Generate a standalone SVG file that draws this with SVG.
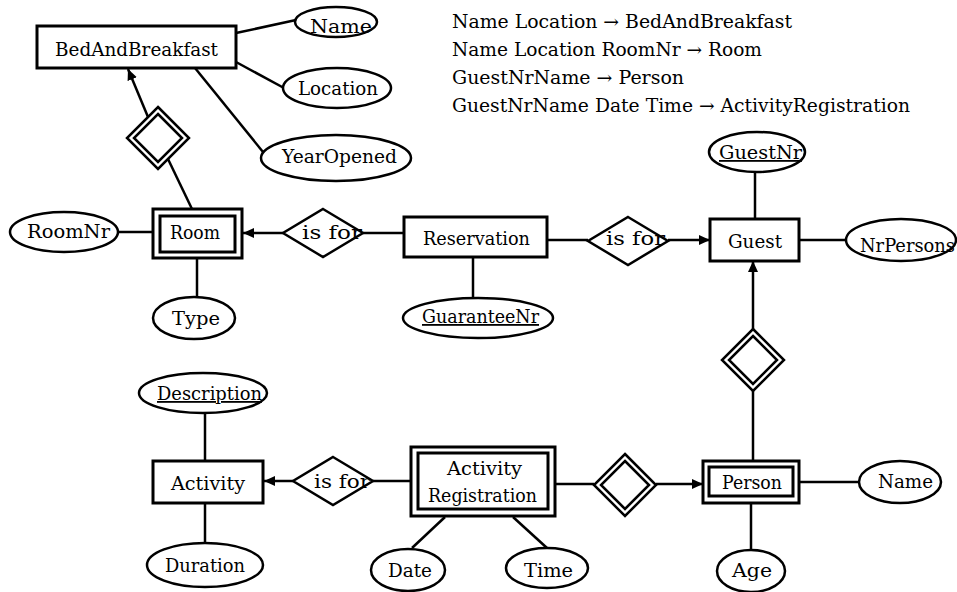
<svg xmlns="http://www.w3.org/2000/svg" width="957" height="592" viewBox="0 0 957 592">
  <style>
    .ent { fill: #fff; stroke: #000; stroke-width: 3; }
    .attr { fill: #fff; stroke: #000; stroke-width: 2.5; }
    .rel { fill: #fff; stroke: #000; stroke-width: 2.5; }
    .ln { fill: none; stroke: #000; stroke-width: 2.5; }
    .arr { fill: none; stroke: #000; stroke-width: 2.5; marker-end: url(#head); }
    text { font-family: "DejaVu Serif", "Liberation Serif", serif; font-size: 18px; fill: #000; }
    .c { text-anchor: middle; }
    .key { text-decoration: underline; }
  </style>
  <defs>
    <marker id="head" markerUnits="userSpaceOnUse" markerWidth="11" markerHeight="10" refX="11" refY="5" orient="auto">
      <path d="M0,0 L11,5 L0,10 z" fill="#000"/>
    </marker>
  </defs>

  <rect width="957" height="592" fill="#fff"/>

  <!-- connectors -->
  <g id="connectors">
    <line class="ln" x1="236" y1="33" x2="296" y2="20"/>
    <line class="ln" x1="236" y1="62" x2="284" y2="88"/>
    <line class="ln" x1="195" y1="68" x2="263" y2="152"/>
    <line class="ln" x1="168" y1="159" x2="192" y2="209"/>
    <line class="arr" x1="148" y1="117" x2="128" y2="69"/>
    <line class="ln" x1="118" y1="232" x2="153" y2="232"/>
    <line class="ln" x1="197" y1="258" x2="197" y2="297"/>
    <line class="arr" x1="283" y1="233" x2="243" y2="233"/>
    <line class="ln" x1="363" y1="233" x2="404" y2="233"/>
    <line class="ln" x1="473" y1="257" x2="473" y2="298"/>
    <line class="ln" x1="547" y1="240" x2="588" y2="240"/>
    <line class="arr" x1="668" y1="240" x2="710" y2="240"/>
    <line class="ln" x1="755" y1="219" x2="755" y2="173"/>
    <line class="ln" x1="799" y1="240" x2="846" y2="240"/>
    <line class="arr" x1="753" y1="329" x2="753" y2="261"/>
    <line class="ln" x1="753" y1="391" x2="753" y2="461"/>
    <line class="ln" x1="799" y1="482" x2="859" y2="482"/>
    <line class="ln" x1="751" y1="503" x2="751" y2="550"/>
    <line class="ln" x1="555" y1="484" x2="594" y2="484"/>
    <line class="arr" x1="656" y1="484" x2="703" y2="484"/>
    <line class="ln" x1="205" y1="413" x2="205" y2="461"/>
    <line class="ln" x1="205" y1="503" x2="205" y2="543"/>
    <line class="arr" x1="293" y1="481" x2="264" y2="481"/>
    <line class="ln" x1="373" y1="481" x2="411" y2="481"/>
    <line class="ln" x1="445" y1="517" x2="412" y2="548"/>
    <line class="ln" x1="513" y1="517" x2="547" y2="548"/>
  </g>

  <!-- entities -->
  <g id="BedAndBreakfast">
    <rect class="ent" x="37" y="26" width="199" height="42"/>
    <text class="c" x="136.5" y="56" textLength="163" lengthAdjust="spacingAndGlyphs">BedAndBreakfast</text>
  </g>
  <g id="Room">
    <rect class="ent" x="153" y="209" width="89" height="49"/>
    <rect class="ent" x="160" y="216" width="75" height="36"/>
    <text class="c" x="195" y="239" textLength="50" lengthAdjust="spacingAndGlyphs">Room</text>
  </g>
  <g id="Reservation">
    <rect class="ent" x="404" y="217" width="143" height="40"/>
    <text class="c" x="476.5" y="245" textLength="107" lengthAdjust="spacingAndGlyphs">Reservation</text>
  </g>
  <g id="Guest">
    <rect class="ent" x="710" y="219" width="89" height="42"/>
    <text class="c" x="755" y="248" textLength="54" lengthAdjust="spacingAndGlyphs">Guest</text>
  </g>
  <g id="Activity">
    <rect class="ent" x="153" y="461" width="110" height="42"/>
    <text class="c" x="208" y="490" textLength="74" lengthAdjust="spacingAndGlyphs">Activity</text>
  </g>
  <g id="ActivityRegistration">
    <rect class="ent" x="411" y="447" width="144" height="69"/>
    <rect class="ent" x="418" y="453" width="130" height="56"/>
    <text class="c" x="484.5" y="475" textLength="75" lengthAdjust="spacingAndGlyphs">Activity</text>
    <text class="c" x="482.5" y="502" textLength="109" lengthAdjust="spacingAndGlyphs">Registration</text>
  </g>
  <g id="Person">
    <rect class="ent" x="703" y="461" width="96" height="42"/>
    <rect class="ent" x="709" y="467" width="84" height="29"/>
    <text class="c" x="752" y="489" textLength="60" lengthAdjust="spacingAndGlyphs">Person</text>
  </g>

  <!-- relationships -->
  <g id="rel-bnb-room">
    <polygon class="rel" points="158,107 189,138 158,169 127,138"/>
    <polygon class="rel" points="158,114 182,138 158,162 134,138"/>
  </g>
  <g id="rel-room-isfor">
    <polygon class="rel" points="323,209 363,233 323,257 283,233"/>
    <text class="c" x="332" y="239" textLength="60" lengthAdjust="spacingAndGlyphs">is for</text>
  </g>
  <g id="rel-guest-isfor">
    <polygon class="rel" points="628,217 668,241 628,265 588,241"/>
    <text class="c" x="635.5" y="245" textLength="59" lengthAdjust="spacingAndGlyphs">is for</text>
  </g>
  <g id="rel-guest-person">
    <polygon class="rel" points="753,329 784,360 753,391 722,360"/>
    <polygon class="rel" points="753,336 777,360 753,384 729,360"/>
  </g>
  <g id="rel-activity-isfor">
    <polygon class="rel" points="333,457 373,481 333,505 293,481"/>
    <text class="c" x="342" y="488" textLength="56" lengthAdjust="spacingAndGlyphs">is for</text>
  </g>
  <g id="rel-registration-person">
    <polygon class="rel" points="625,454 656,485 625,516 594,485"/>
    <polygon class="rel" points="625,461 649,485 625,509 601,485"/>
  </g>

  <!-- attributes -->
  <g id="attr-bnb-name">
    <ellipse class="attr" cx="336" cy="22" rx="41" ry="15"/>
    <text class="c" x="341" y="33" textLength="62" lengthAdjust="spacingAndGlyphs">Name</text>
  </g>
  <g id="attr-location">
    <ellipse class="attr" cx="337" cy="88" rx="54" ry="20"/>
    <text class="c" x="338" y="95" textLength="80" lengthAdjust="spacingAndGlyphs">Location</text>
  </g>
  <g id="attr-yearopened">
    <ellipse class="attr" cx="336" cy="158" rx="75" ry="23"/>
    <text class="c" x="339.5" y="163" textLength="115" lengthAdjust="spacingAndGlyphs">YearOpened</text>
  </g>
  <g id="attr-roomnr">
    <ellipse class="attr" cx="64" cy="232" rx="54" ry="20"/>
    <text class="c" x="68.5" y="238" textLength="83" lengthAdjust="spacingAndGlyphs">RoomNr</text>
  </g>
  <g id="attr-type">
    <ellipse class="attr" cx="194" cy="318" rx="41" ry="21"/>
    <text class="c" x="196" y="325" textLength="48" lengthAdjust="spacingAndGlyphs">Type</text>
  </g>
  <g id="attr-guaranteenr">
    <ellipse class="attr" cx="478" cy="318" rx="75" ry="20"/>
    <text class="c key" x="480.5" y="323" textLength="117" lengthAdjust="spacingAndGlyphs">GuaranteeNr</text>
  </g>
  <g id="attr-guestnr">
    <ellipse class="attr" cx="757" cy="152" rx="48" ry="20"/>
    <text class="c key" x="760.5" y="159" textLength="83" lengthAdjust="spacingAndGlyphs">GuestNr</text>
  </g>
  <g id="attr-nrpersons">
    <ellipse class="attr" cx="901" cy="240" rx="55" ry="21"/>
    <text class="c" x="907.5" y="252" textLength="95" lengthAdjust="spacingAndGlyphs">NrPersons</text>
  </g>
  <g id="attr-description">
    <ellipse class="attr" cx="203" cy="393" rx="64" ry="20"/>
    <text class="c key" x="209.5" y="400" textLength="105" lengthAdjust="spacingAndGlyphs">Description</text>
  </g>
  <g id="attr-duration">
    <ellipse class="attr" cx="205" cy="565" rx="58" ry="22"/>
    <text class="c" x="205" y="572" textLength="80" lengthAdjust="spacingAndGlyphs">Duration</text>
  </g>
  <g id="attr-date">
    <ellipse class="attr" cx="408" cy="570" rx="37" ry="21"/>
    <text class="c" x="410" y="577" textLength="44" lengthAdjust="spacingAndGlyphs">Date</text>
  </g>
  <g id="attr-time">
    <ellipse class="attr" cx="547" cy="568" rx="41" ry="20"/>
    <text class="c" x="548.5" y="577" textLength="49" lengthAdjust="spacingAndGlyphs">Time</text>
  </g>
  <g id="attr-person-name">
    <ellipse class="attr" cx="900" cy="482" rx="41" ry="21"/>
    <text class="c" x="905.5" y="488" textLength="55" lengthAdjust="spacingAndGlyphs">Name</text>
  </g>
  <g id="attr-age">
    <ellipse class="attr" cx="751" cy="571" rx="34" ry="21"/>
    <text class="c" x="752" y="577" textLength="40" lengthAdjust="spacingAndGlyphs">Age</text>
  </g>

  <!-- functional dependencies -->
  <g id="dependencies">
    <text x="452" y="28" textLength="340" lengthAdjust="spacingAndGlyphs">Name Location → BedAndBreakfast</text>
    <text x="452" y="56" textLength="310" lengthAdjust="spacingAndGlyphs">Name Location RoomNr → Room</text>
    <text x="452" y="84" textLength="232" lengthAdjust="spacingAndGlyphs">GuestNrName → Person</text>
    <text x="452" y="112" textLength="458" lengthAdjust="spacingAndGlyphs">GuestNrName Date Time → ActivityRegistration</text>
  </g>
</svg>
